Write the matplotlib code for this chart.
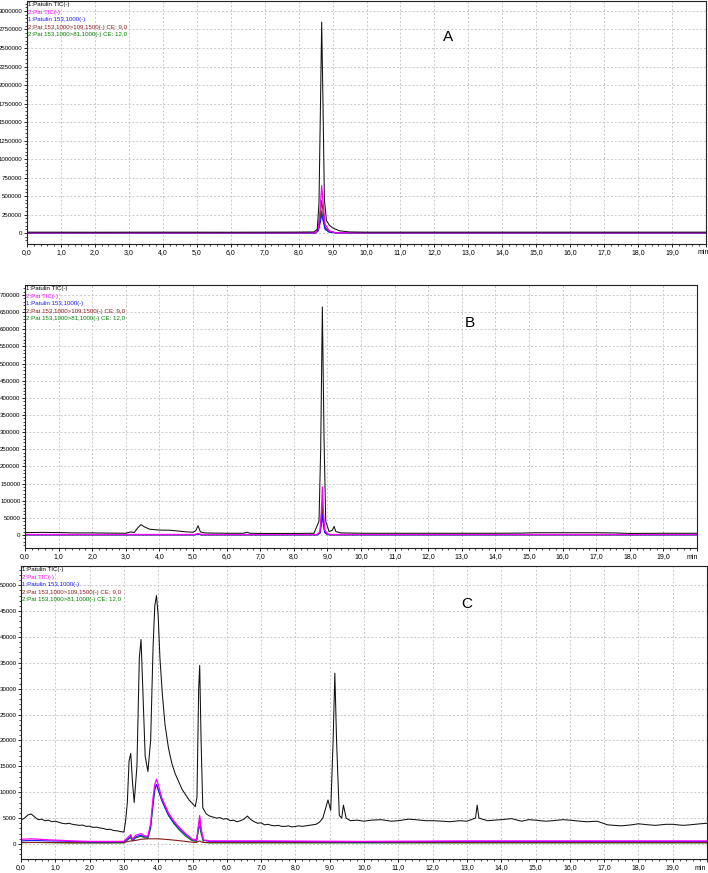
import matplotlib
matplotlib.use("Agg")
import matplotlib.pyplot as plt
from matplotlib import font_manager
from matplotlib.ticker import MultipleLocator, FuncFormatter

names = {f.name for f in font_manager.fontManager.ttflist}
tick_font = "Liberation Sans Narrow" if "Liberation Sans Narrow" in names else "Liberation Sans"
plt.rcParams["font.family"] = ["Liberation Sans", "DejaVu Sans"]

legend_labels = ["1:Patulin TIC(-)", "2:Pat TIC(-)", "1:Patulin 153,1000(-)",
                 "2:Pat 153,1000>109,1500(-) CE: 9,0", "2:Pat 153,1000>81,1000(-) CE: 12,0"]
legend_colors = ["#000000", "#ff00ff", "#1a1aff", "#8b1a1a", "#008000"]

# ---------- panel A ----------
a_t_black = [0.0, 2.0, 4.0, 6.0, 8.0, 8.45, 8.55, 8.6, 8.64, 8.68, 8.72, 8.76, 8.82, 8.9, 9.0, 9.2, 9.5, 10.0, 14.0, 20.0]
a_y_black = [12000, 11000, 12000, 11000, 13000, 15000, 50000, 400000, 1600000, 2850000, 1700000, 450000,
             170000, 110000, 70000, 30000, 15000, 12000, 12000, 12000]
a_t_sub = [0.0, 8.5, 8.58, 8.64, 8.68, 8.72, 8.78, 8.9, 9.1, 20.0]
a_y_magenta = [4000, 4000, 60000, 350000, 640000, 420000, 120000, 30000, 4000, 4000]
a_y_blue = [2000, 2000, 30000, 150000, 250000, 170000, 50000, 12000, 2000, 2000]
a_y_brown = [3000, 3000, 45000, 240000, 440000, 290000, 80000, 20000, 3000, 3000]
a_y_green = [2000, 2000, 35000, 170000, 300000, 200000, 60000, 15000, 2000, 2000]

# ---------- panel B ----------
b_t_black = [0.0, 0.5, 1.0, 1.5, 2.0, 2.5, 3.0, 3.15, 3.25, 3.35, 3.45, 3.55, 3.7, 3.9, 4.1, 4.3, 4.5,
             4.8, 5.0, 5.08, 5.15, 5.22, 5.35, 5.6, 6.0, 6.5, 6.6, 6.7, 7.0, 8.0, 8.6, 8.75, 8.8, 8.85,
             8.9, 8.95, 9.05, 9.15, 9.2, 9.25, 9.4, 10.0, 12.0, 14.0, 14.8, 15.2, 16.0, 17.0, 17.5,
             18.0, 19.0, 20.0]
b_y_black = [7000, 7500, 7000, 6000, 6000, 5500, 5000, 9000, 7000, 20000, 30000, 24000, 17000, 15000,
             14000, 14000, 12000, 9000, 8000, 12000, 27000, 9000, 6000, 5500, 5000, 5000, 8000, 5000,
             4500, 4500, 5000, 40000, 250000, 665000, 280000, 40000, 10000, 14000, 25000, 10000, 6000,
             5000, 5000, 5000, 5500, 6500, 6500, 6500, 6000, 4500, 5000, 5000]
b_t_sub = [0.0, 5.05, 5.15, 5.25, 8.7, 8.78, 8.82, 8.85, 8.88, 8.92, 9.0, 9.1, 20.0]
b_y_magenta = [1500, 1500, 4000, 1500, 1500, 10000, 70000, 140000, 70000, 15000, 3000, 1500, 1500]
b_y_blue = [500, 500, 2000, 500, 500, 5000, 30000, 60000, 30000, 7000, 1000, 500, 500]
b_y_brown = [800, 800, 2500, 800, 800, 8000, 50000, 95000, 48000, 10000, 2000, 800, 800]
b_y_green = [600, 600, 2000, 600, 600, 6000, 38000, 75000, 37000, 8000, 1500, 600, 600]

# ---------- panel C ----------
c_t_black = [0.0, 0.1, 0.2, 0.3, 0.4, 0.5, 0.6, 0.7, 0.8, 0.9, 1.0, 1.1, 1.2, 1.3, 1.4, 1.5, 1.6, 1.7,
             1.8, 1.9, 2.0, 2.1, 2.2, 2.3, 2.4, 2.5, 2.6, 2.7, 2.8, 2.9, 3.0, 3.05, 3.1, 3.15, 3.2,
             3.25, 3.3, 3.38, 3.45, 3.5, 3.55, 3.62, 3.7, 3.78, 3.85, 3.9, 3.95, 4.0, 4.05, 4.12, 4.2,
             4.3, 4.4, 4.5, 4.6, 4.7, 4.8, 4.9, 5.0, 5.08, 5.13, 5.18, 5.21, 5.25, 5.3, 5.4, 5.5, 5.6,
             5.7, 5.8, 5.9, 6.0, 6.1, 6.2, 6.3, 6.4, 6.5, 6.6, 6.7, 6.8, 6.9, 7.0, 7.1, 7.2, 7.3, 7.4,
             7.5, 7.6, 7.7, 7.8, 7.9, 8.0, 8.1, 8.2, 8.3, 8.4, 8.5, 8.6, 8.7, 8.8, 8.95, 9.03, 9.1,
             9.15, 9.2, 9.28, 9.35, 9.4, 9.48, 9.6, 9.8, 10.0, 10.2, 10.5, 10.8, 11.0, 11.3, 11.5,
             11.8, 12.0, 12.3, 12.5, 12.8, 13.0, 13.25, 13.3, 13.35, 13.6, 13.8, 14.0, 14.3, 14.6,
             14.8, 15.0, 15.3, 15.5, 15.8, 16.0, 16.3, 16.5, 16.8, 17.1, 17.3, 17.5, 17.8, 18.0,
             18.3, 18.5, 18.8, 19.0, 19.3, 19.5, 19.8, 20.0]
c_y_black = [4600, 5000, 5600, 5800, 5200, 4700, 4800, 4500, 4600, 4300, 4400, 4200, 4000, 3900,
             4000, 3800, 3700, 3600, 3650, 3400, 3450, 3200, 3250, 3100, 3000, 2800, 2850, 2600, 2550,
             2400, 2300, 4500, 8000, 16000, 17500, 12000, 8000, 15000, 36000, 39500, 30000, 17000,
             14000, 20000, 38000, 46000, 48000, 44000, 36000, 29000, 23000, 18500, 15500, 13500, 12000,
             10500, 9500, 8500, 7800, 7200, 9000, 30000, 34500, 20000, 7000, 5800, 5400, 5200, 5000,
             5100, 4800, 4900, 4500, 4600, 4300, 4500, 4800, 5400, 4700, 4300, 4000, 4100, 3700, 3800,
             3600, 3500, 3600, 3400, 3400, 3500, 3300, 3400, 3500, 3400, 3500, 3600, 3700, 3800, 4200,
             5000, 8500, 6500, 20000, 33000, 20000, 5500, 5000, 7500, 5000, 4500, 4600, 4400, 4600,
             4700, 4400, 4500, 4800, 4700, 4500, 4500, 4400, 4300, 4500, 4400, 5000, 7500, 5000, 4500,
             4600, 4700, 4900, 4400, 4700, 4600, 4400, 4500, 4700, 4600, 4400, 4300, 4400, 3700, 3600,
             3500, 3700, 3900, 3700, 3600, 3800, 3800, 3600, 3700, 3900, 4000]
c_t_sub = [0.0, 0.3, 0.8, 1.5, 2.0, 2.5, 3.0, 3.15, 3.2, 3.25, 3.35, 3.5, 3.6, 3.7, 3.78, 3.85, 3.9,
           3.95, 4.0, 4.1, 4.2, 4.3, 4.45, 4.6, 4.8, 5.0, 5.12, 5.18, 5.21, 5.25, 5.32, 5.5, 7.0, 10.0,
           13.0, 16.0, 20.0]
c_y_magenta = [900, 1000, 800, 600, 500, 500, 500, 1500, 1800, 900, 1700, 2000, 1600, 1500, 4000, 9000,
               11500, 12500, 11500, 9000, 7500, 6000, 4500, 3300, 2000, 900, 800, 4000, 5500, 3000, 800,
               600, 600, 500, 600, 600, 600]
c_y_blue = [600, 700, 600, 500, 400, 400, 400, 1200, 1500, 800, 1400, 1700, 1400, 1300, 3500, 8000,
            10500, 11500, 10500, 8500, 7000, 5600, 4200, 3000, 1800, 800, 700, 3500, 5000, 2600, 700,
            500, 500, 400, 500, 500, 500]
c_y_brown = [300, 300, 300, 250, 250, 250, 300, 500, 600, 600, 700, 900, 950, 1000, 1000, 1000, 1000,
             1000, 1000, 950, 900, 850, 750, 650, 500, 350, 300, 500, 600, 400, 300, 300, 300, 300,
             300, 300, 300]
c_y_green = [250, 300, 250, 200, 200, 200, 200, 1000, 1200, 600, 1200, 1500, 1200, 1100, 3000, 7500,
             10500, 11500, 10500, 8500, 7000, 5500, 4000, 2800, 1500, 600, 500, 3000, 3500, 2000, 300,
             200, 200, 200, 200, 200, 200]

panels = [
    dict(rect=[27, 1, 706, 244], ylim=(-148000, 3135000), ymaj=250000, ymin=50000, tag="A", tagxy=(448, 37),
         minx=19.93, black=(a_t_black, a_y_black), sub=a_t_sub, mag=a_y_magenta, blue=a_y_blue,
         brown=a_y_brown, green=a_y_green),
    dict(rect=[25, 285, 697, 548], ylim=(-38000, 729000), ymaj=50000, ymin=10000, tag="B", tagxy=(470, 323),
         minx=19.85, black=(b_t_black, b_y_black), sub=b_t_sub, mag=b_y_magenta, blue=b_y_blue,
         brown=b_y_brown, green=b_y_green),
    dict(rect=[21, 566, 707, 859], ylim=(-2900, 53700), ymaj=5000, ymin=1000, tag="C", tagxy=(467, 604),
         minx=19.8, black=(c_t_black, c_y_black), sub=c_t_sub, mag=c_y_magenta, blue=c_y_blue,
         brown=c_y_brown, green=c_y_green),
]

W, H = 708, 873
fig = plt.figure(figsize=(W / 100, H / 100), dpi=100)

for p in panels:
    x0, y0, x1, y1 = p["rect"]
    ax = fig.add_axes([x0 / W, 1 - y1 / H, (x1 - x0) / W, (y1 - y0) / H])
    t = p["sub"]
    ax.plot(t, p["green"], color=legend_colors[4], lw=0.8)
    ax.plot(t, p["brown"], color=legend_colors[3], lw=0.8)
    ax.plot(t, p["blue"], color=legend_colors[2], lw=0.8)
    ax.plot(t, p["mag"], color=legend_colors[1], lw=0.9)
    ax.plot(*p["black"], color="#111111", lw=0.75)

    ax.set_xlim(0, 20.0)
    ax.set_ylim(*p["ylim"])
    ax.xaxis.set_major_locator(MultipleLocator(1.0))
    ax.xaxis.set_minor_locator(MultipleLocator(0.2))
    ax.yaxis.set_major_locator(MultipleLocator(p["ymaj"]))
    ax.yaxis.set_minor_locator(MultipleLocator(p["ymin"]))
    ax.xaxis.set_major_formatter(FuncFormatter(lambda v, pos: "" if v > 19.5 else f"{v:.1f}".replace(".", ",")))
    ax.yaxis.set_major_formatter(FuncFormatter(lambda v, pos: f"{int(round(v))}" if v >= 0 else ""))
    ax.tick_params(which="major", direction="out", length=2.5, width=0.6, pad=1)
    ax.tick_params(axis="y", which="major", labelsize=4.4, pad=0.8)
    ax.tick_params(axis="x", which="major", labelsize=5.0)
    ax.tick_params(which="minor", direction="out", length=1.3, width=0.5)
    for lab in ax.get_xticklabels() + ax.get_yticklabels():
        lab.set_fontfamily(tick_font)
    ax.grid(True, which="major", color="#c8c8c8", linestyle=(0, (2, 2)), linewidth=0.7)
    ax.set_axisbelow(True)
    for s in ax.spines.values():
        s.set_linewidth(0.8)
        s.set_color("#222222")
    ax.text(p["minx"], -0.022, "min", transform=ax.get_xaxis_transform(), ha="center", va="top",
            fontsize=5.0, family=tick_font)

    for i, (lab, col) in enumerate(zip(legend_labels, legend_colors)):
        ax.annotate(lab, xy=(0, 1), xycoords="axes fraction", xytext=(0.8, -1 - i * 5.4),
                    textcoords="offset points", ha="left", va="top", fontsize=4.4, color=col)

    tx, ty = p["tagxy"]
    fig.text(tx / W, 1 - ty / H, p["tag"], ha="center", va="center", fontsize=11)

fig.savefig("out.png", dpi=100)
